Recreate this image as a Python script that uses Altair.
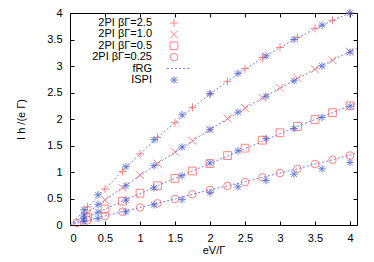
import altair as alt
import pandas as pd

# ---------------- data ----------------
x_2pi = [0.25, 0.5, 0.75, 1.0, 1.25, 1.5, 1.75, 2.0, 2.25, 2.5, 2.75, 3.0, 3.25, 3.5, 3.75, 4.0]
y_2pi_25 = [0.34, 0.68, 1.01, 1.34, 1.65, 1.93, 2.22, 2.47, 2.71, 2.95, 3.16, 3.35, 3.54, 3.71, 3.86, 4.0]
y_2pi_10 = [0.23, 0.47, 0.70, 0.94, 1.16, 1.38, 1.59, 1.80, 2.01, 2.21, 2.40, 2.59, 2.77, 2.94, 3.11, 3.27]
y_2pi_05 = [0.15, 0.30, 0.45, 0.60, 0.74, 0.88, 1.02, 1.16, 1.31, 1.45, 1.60, 1.74, 1.86, 1.99, 2.12, 2.25]
x_2pi_025 = [0.1] + x_2pi
y_2pi_025 = [0.04, 0.09, 0.17, 0.25, 0.33, 0.41, 0.49, 0.58, 0.66, 0.74, 0.81, 0.90, 0.98, 1.06, 1.15, 1.23, 1.31]

x_ispi = [0.2, 0.4, 0.8, 1.2, 1.6, 2.0, 2.4, 2.8, 3.2, 3.6, 4.0]
y_ispi_25 = [0.29, 0.57, 1.10, 1.61, 2.08, 2.48, 2.86, 3.19, 3.50, 3.77, 4.0]
y_ispi_10 = [0.19, 0.39, 0.74, 1.12, 1.47, 1.80, 2.13, 2.43, 2.72, 3.00, 3.26]
y_ispi_05 = [0.12, 0.24, 0.47, 0.70, 0.93, 1.17, 1.40, 1.63, 1.82, 2.03, 2.24]
y_ispi_025 = [0.06, 0.12, 0.25, 0.38, 0.48, 0.61, 0.72, 0.84, 0.96, 1.06, 1.18]

x_frg = [0, 0.25, 0.5, 0.75, 1.0, 1.25, 1.5, 1.75, 2.0, 2.25, 2.5, 2.75, 3.0, 3.25, 3.5, 3.75, 4.0, 4.1]
y_frg_25 = [0, 0.33, 0.68, 1.02, 1.34, 1.65, 1.93, 2.21, 2.47, 2.71, 2.94, 3.15, 3.35, 3.53, 3.70, 3.86, 4.0, 4.06]
y_frg_10 = [0, 0.23, 0.47, 0.71, 0.93, 1.16, 1.37, 1.59, 1.80, 2.00, 2.20, 2.40, 2.58, 2.76, 2.94, 3.11, 3.27, 3.33]
y_frg_05 = [0, 0.15, 0.30, 0.45, 0.59, 0.74, 0.88, 1.02, 1.16, 1.30, 1.44, 1.58, 1.72, 1.86, 1.99, 2.12, 2.25, 2.30]
y_frg_025 = [0, 0.085, 0.17, 0.25, 0.33, 0.41, 0.49, 0.58, 0.66, 0.74, 0.82, 0.90, 0.98, 1.06, 1.15, 1.23, 1.32, 1.36]

labels_2pi = ["2PI βΓ=2.5", "2PI βΓ=1.0", "2PI βΓ=0.5", "2PI βΓ=0.25"]
legend_labels = labels_2pi + ["fRG", "ISPI"]

x_ticks = [0, 0.5, 1, 1.5, 2, 2.5, 3, 3.5, 4]
y_ticks = [0, 0.5, 1, 1.5, 2, 2.5, 3, 3.5, 4]

# ---------------- tables ----------------
df_2pi = pd.concat([
    pd.DataFrame({"x": x_2pi, "y": y_2pi_25, "s": labels_2pi[0]}),
    pd.DataFrame({"x": x_2pi, "y": y_2pi_10, "s": labels_2pi[1]}),
    pd.DataFrame({"x": x_2pi, "y": y_2pi_05, "s": labels_2pi[2]}),
    pd.DataFrame({"x": x_2pi_025, "y": y_2pi_025, "s": labels_2pi[3]}),
])
df_ispi = pd.concat([
    pd.DataFrame({"x": x_ispi, "y": yy, "s": k})
    for k, yy in zip("abcd", [y_ispi_25, y_ispi_10, y_ispi_05, y_ispi_025])
])
df_frg = pd.concat([
    pd.DataFrame({"x": x_frg, "y": yy, "s": k})
    for k, yy in zip("abcd", [y_frg_25, y_frg_10, y_frg_05, y_frg_025])
])
df_leg = pd.DataFrame({"label": legend_labels, "row": list(range(len(legend_labels)))})

# ---------------- styling ----------------
W, H = 287, 212
RED = "#ff4f4f"
BLUE = "#2a4fcc"
LBLUE = "#7a7aff"
FONT = "Liberation Sans"

PLUS = "M-1,0L1,0M0,-1L0,1"
TIMES = "M-1,-1L1,1M-1,1L1,-1"
ASTER = "M-1,0L1,0M0,-1L0,1M-0.75,-0.75L0.75,0.75M-0.75,0.75L0.75,-0.75"

shape_scale = alt.Scale(domain=labels_2pi + ["ISPI"],
                        range=[PLUS, TIMES, "square", "circle", ASTER])
size_scale = alt.Scale(domain=labels_2pi + ["ISPI"], range=[64, 56, 49, 52, 72])

xs = alt.Scale(domain=[0, 4.1], nice=False, zero=False)
ys = alt.Scale(domain=[0, 4], nice=False, zero=False)


def tick_axis(orient, values, offset):
    return alt.Axis(orient=orient, values=values, offset=offset, labels=False,
                    domain=False, ticks=True, tickSize=4, tickColor="black",
                    grid=False)


# fRG lines carry the labelled axes
frg = alt.Chart(df_frg).mark_line(color=LBLUE, strokeWidth=1, strokeDash=[2, 2], clip=True).encode(
    x=alt.X("x:Q", scale=xs, title="eV/Γ",
            axis=alt.Axis(orient="bottom", values=x_ticks, format="~g", ticks=False, tickSize=0,
                          domain=False, grid=False, labelPadding=7, titlePadding=1)),
    y=alt.Y("y:Q", scale=ys, title="I h /(e Γ)",
            axis=alt.Axis(orient="left", values=y_ticks, format="~g", ticks=False, tickSize=0,
                          domain=False, grid=False, labelPadding=8, titlePadding=20)),
    detail="s:N",
)

pts_2pi = alt.Chart(df_2pi).mark_point(filled=False, color=RED, strokeWidth=1).encode(
    x=alt.X("x:Q", scale=xs, title=None, axis=tick_axis("top", x_ticks, -H)),
    y=alt.Y("y:Q", scale=ys, title=None, axis=tick_axis("right", y_ticks, -W)),
    shape=alt.Shape("s:N", scale=shape_scale, legend=None),
    size=alt.Size("s:N", scale=size_scale, legend=None),
)

pts_ispi = alt.Chart(df_ispi).transform_calculate(k="'ISPI'").mark_point(
    filled=False, color=BLUE, strokeWidth=1).encode(
    x=alt.X("x:Q", scale=xs, title=None, axis=tick_axis("bottom", x_ticks, -H)),
    y=alt.Y("y:Q", scale=ys, title=None, axis=tick_axis("left", y_ticks, -W)),
    shape=alt.Shape("k:N", scale=shape_scale, legend=None),
    size=alt.Size("k:N", scale=size_scale, legend=None),
)

# ---------------- key (gnuplot style: text right-aligned, sample to the right) ----------------
row_scale = alt.Scale(domain=[0, 5], range=[10, 67])
leg_text = alt.Chart(df_leg).mark_text(align="right", baseline="middle", fontSize=11,
                                       font=FONT, color="black").encode(
    x=alt.value(82),
    y=alt.Y("row:Q", scale=row_scale, axis=None),
    text="label:N",
)
leg_red = alt.Chart(df_leg).transform_filter(
    alt.FieldOneOfPredicate(field="label", oneOf=labels_2pi)).mark_point(
    filled=False, color=RED, strokeWidth=1).encode(
    x=alt.value(104),
    y=alt.Y("row:Q", scale=row_scale, axis=None),
    shape=alt.Shape("label:N", scale=shape_scale, legend=None),
    size=alt.Size("label:N", scale=size_scale, legend=None),
)
leg_blue = alt.Chart(df_leg).transform_filter(alt.datum.label == "ISPI").mark_point(
    filled=False, color=BLUE, strokeWidth=1).encode(
    x=alt.value(104),
    y=alt.Y("row:Q", scale=row_scale, axis=None),
    shape=alt.Shape("label:N", scale=shape_scale, legend=None),
    size=alt.Size("label:N", scale=size_scale, legend=None),
)
leg_line = alt.Chart(df_leg).transform_filter(alt.datum.label == "fRG").mark_rule(
    color=LBLUE, strokeWidth=1, strokeDash=[2, 2]).encode(
    x=alt.value(97), x2=alt.value(119),
    y=alt.Y("row:Q", scale=row_scale, axis=None),
)

chart = alt.layer(frg, pts_2pi, pts_ispi, leg_text, leg_red, leg_blue, leg_line).resolve_scale(
    y="independent", shape="independent", size="independent"
).resolve_axis(x="independent", y="independent").properties(
    width=W, height=H,
    autosize=alt.AutoSizeParams(type="none"),
    padding={"left": 62, "top": 5, "right": 9, "bottom": 37},
).configure_view(stroke="black", strokeWidth=1).configure_axis(
    labelFont=FONT, titleFont=FONT, labelFontSize=11, titleFontSize=11,
    labelColor="black", titleColor="black", titleFontWeight="normal",
).configure_text(font=FONT)

chart.save("out.html", embed_options={"renderer": "svg", "actions": False})
